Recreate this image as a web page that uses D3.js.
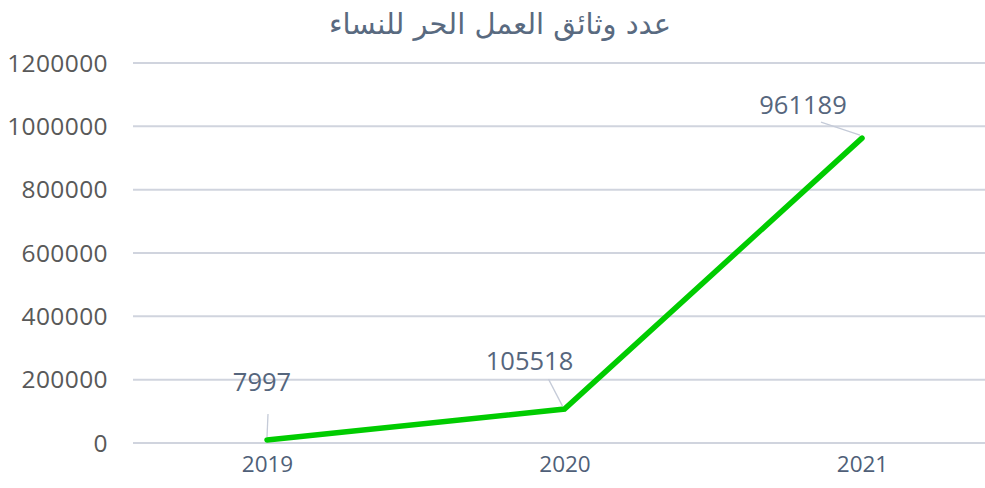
<!DOCTYPE html>
<html><head><meta charset="utf-8">
<script src="https://cdn.jsdelivr.net/npm/d3@7"></script>
<style>body{margin:0;background:#fff;}</style>
</head><body>
<script>
const title = "عدد وثائق العمل الحر للنساء";
const years = ["2019", "2020", "2021"];
const values = [7997, 105518, 961189];
const yTicks = [0, 200000, 400000, 600000, 800000, 1000000, 1200000];

const W = 985, H = 488;
const svg = d3.select("body").append("svg").attr("width", W).attr("height", H);

const x = d3.scalePoint().domain(years).range([267, 862]);
const y = d3.scaleLinear().domain([0, 1200000]).range([442.5, 62.5]);

svg.append("text").attr("x", 500).attr("y", 34).attr("text-anchor", "middle")
  .attr("font-family", "DejaVu Sans, sans-serif").attr("font-size", 29).attr("fill", "#596a80")
  .text(title);

const yAxis = svg.append("g").attr("transform", "translate(133,0)")
  .call(d3.axisLeft(y).tickValues(yTicks).tickSize(-852).tickPadding(25).tickFormat(d3.format("d")));
yAxis.select(".domain").remove();
yAxis.selectAll("line").attr("stroke", "#d0d4de").attr("stroke-width", 2);
yAxis.selectAll("text").attr("font-family", "Open Sans, sans-serif").attr("font-size", 24.5)
  .attr("letter-spacing", "0.4px").attr("fill", "#595959").attr("dy", "0.35em");

const xAxis = svg.append("g").attr("transform", "translate(0,442.5)")
  .call(d3.axisBottom(x).tickSize(0).tickPadding(14));
xAxis.select(".domain").remove();
xAxis.selectAll("text").attr("font-family", "Open Sans, sans-serif").attr("font-size", 22.5).attr("fill", "#4f5f78");

const data = years.map((yr, i) => ({yr, v: values[i]}));
svg.append("path").datum(data)
  .attr("fill", "none").attr("stroke", "#00cc00").attr("stroke-width", 5.5).attr("stroke-linecap", "round")
  .attr("d", d3.line().x(d => x(d.yr)).y(d => y(d.v)));

// data labels with leader lines (offsets relative to point)
const labelOff = [{dx: -5, dy: -49, lx1: 1, ly1: -26}, {dx: -35, dy: -39, lx1: -16, ly1: -30}, {dx: -59, dy: -24, lx1: -41, ly1: -16}];
data.forEach((d, i) => {
  const px = x(d.yr), py = y(d.v), o = labelOff[i];
  svg.append("line").attr("x1", px + o.lx1).attr("y1", py + o.ly1).attr("x2", px - 2 + (i==0?2:0)).attr("y2", py - 3)
    .attr("stroke", "#c5cbd8").attr("stroke-width", 1.3);
  svg.append("text").attr("x", px + o.dx).attr("y", py + o.dy).attr("text-anchor", "middle")
    .attr("font-family", "Open Sans, sans-serif").attr("font-size", 25.5).attr("fill", "#56667d")
    .text(d.v);
});
</script>
</body></html>
